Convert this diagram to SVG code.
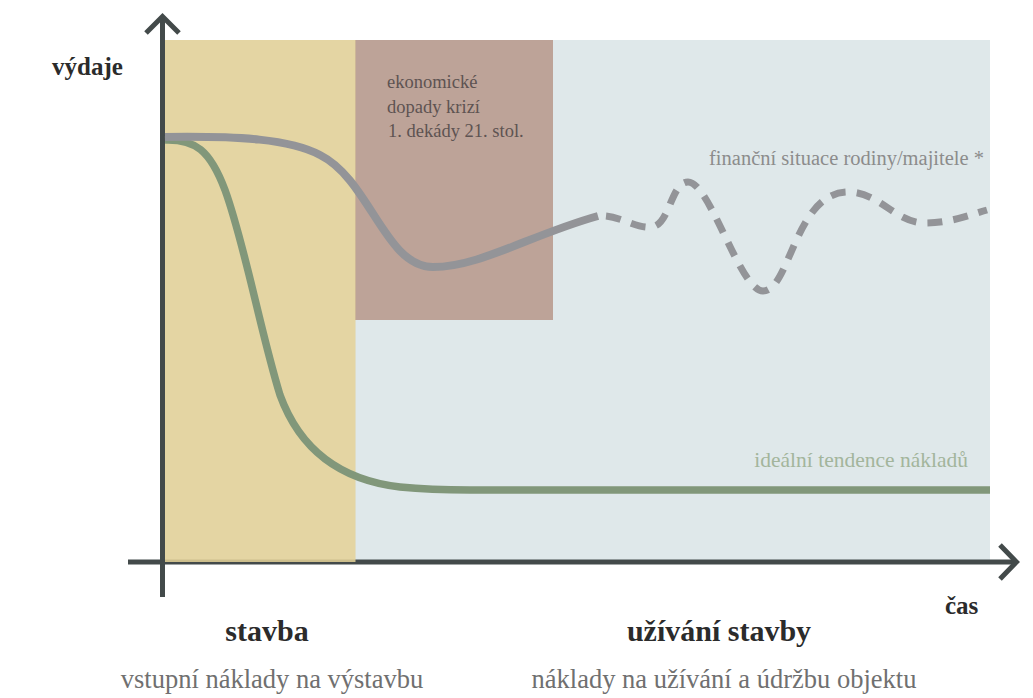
<svg xmlns="http://www.w3.org/2000/svg" width="1033" height="698" viewBox="0 0 1033 698" font-family="'Liberation Serif', 'DejaVu Serif', serif">
  <style>
    .axis { fill: none; stroke: #434a4a; stroke-width: 5; }
    text { font-family: "Liberation Serif", "DejaVu Serif", serif; }
    .head { font-weight: bold; fill: #2b2b2b; }
    .sub { fill: #707070; font-size: 26.5px; }
    .curve { fill: none; stroke-linecap: butt; stroke-linejoin: round; }
  </style>
  <rect width="1033" height="698" fill="#ffffff"/>

  <g id="region-use">
    <rect x="355" y="40" width="635" height="520" fill="#dfe8ea"/>
  </g>
  <g id="region-crisis">
    <rect x="355" y="40" width="198" height="280" fill="#bda398"/>
    <text font-size="18.5" fill="#5e5352">
      <tspan x="387" y="88">ekonomické</tspan>
      <tspan x="387" y="113">dopady krizí</tspan>
      <tspan x="388" y="137">1. dekády 21. stol.</tspan>
    </text>
  </g>

  <g id="axes">
    <line class="axis" x1="162.5" y1="16" x2="162.5" y2="597"/>
    <polyline class="axis" points="146,33 162.5,16.5 179,33"/>
    <line class="axis" x1="128" y1="562" x2="1016" y2="562"/>
    <polyline class="axis" points="1000,545 1016.5,562 1000,579"/>
  </g>

  <g id="region-build">
    <rect x="165" y="40" width="190.5" height="522" fill="#e0cf96" fill-opacity="0.88"/>
  </g>

  <g id="connectors">
    <path id="curve-ideal" class="curve" stroke="#81977a" stroke-width="7.5"
      d="M165,140 C195,139 210,150 225,190 C245,245 260,330 280,395 C300,450 340,480 400,487 C430,490 450,490 470,490 L990,490"/>
    <path id="curve-finance" class="curve" stroke="#939498" stroke-width="8"
      d="M165,137 C240,136 290,139 320,155 C370,180 385,267 433,267 C480,267 530,235 598,216"/>
    <path id="curve-finance-dashed" class="curve" stroke="#939498" stroke-width="7" stroke-dasharray="15 11" stroke-dashoffset="18"
      d="M598,216 C620,214 640,232 655,226 C670,220 672,182 688,182 C710,182 740,291 763,291 C790,291 795,192 848,192 C880,192 895,223 925,223 C950,223 970,215 987,210"/>
  </g>

  <g id="curve-labels">
    <text font-size="20.5" fill="#8c8c8c" x="984" y="165" text-anchor="end">finanční situace rodiny/majitele *</text>
    <text font-size="21.5" fill="#a3b59c" x="968" y="467" text-anchor="end">ideální tendence nákladů</text>
  </g>

  <g id="axis-labels">
    <text class="head" font-size="25" x="52" y="75">výdaje</text>
    <text class="head" font-size="25" x="945" y="614">čas</text>
  </g>

  <g id="phase-build">
    <text class="head" font-size="30" x="267" y="641" text-anchor="middle">stavba</text>
    <text class="sub" x="272" y="688" text-anchor="middle">vstupní náklady na výstavbu</text>
  </g>
  <g id="phase-use">
    <text class="head" font-size="30" x="719" y="641" text-anchor="middle">užívání stavby</text>
    <text class="sub" x="724" y="688" text-anchor="middle">náklady na užívání a údržbu objektu</text>
  </g>
</svg>
